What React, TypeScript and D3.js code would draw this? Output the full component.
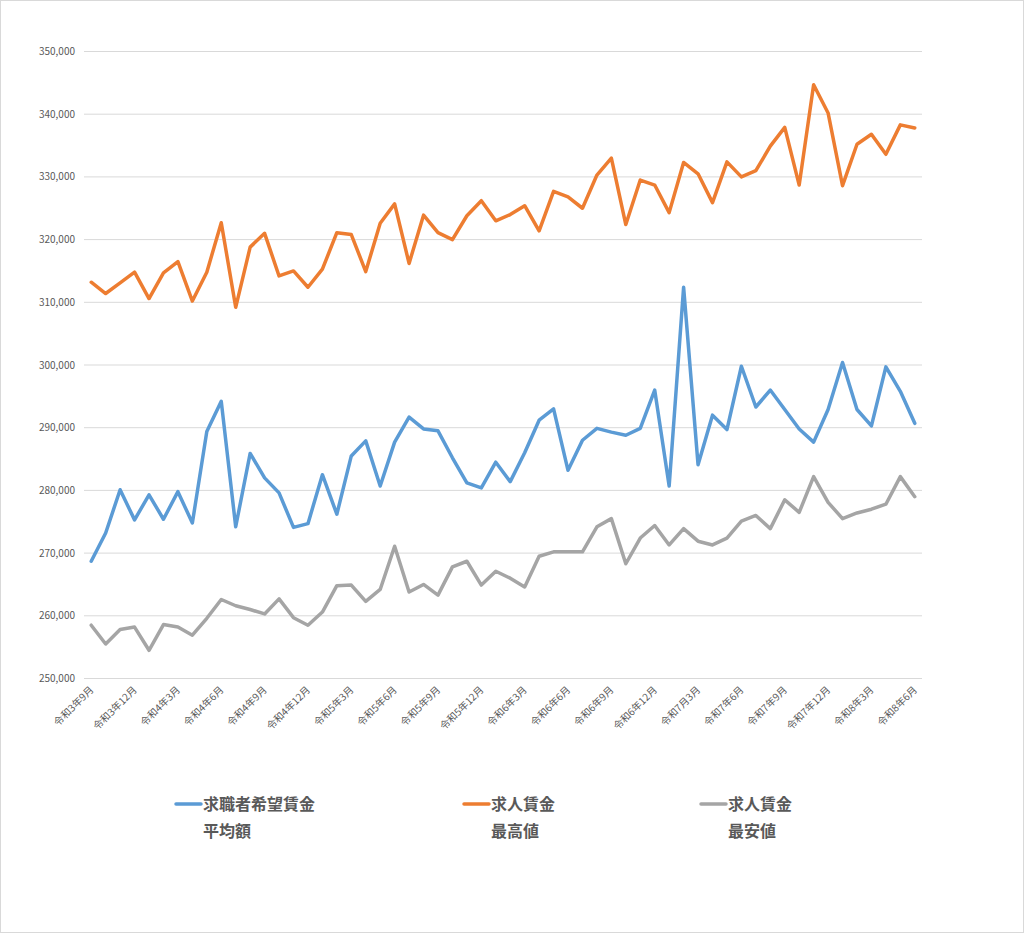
import * as d3 from "d3"

const months = [
  "令和3年9月", "令和3年10月", "令和3年11月", "令和3年12月",
  "令和4年1月", "令和4年2月", "令和4年3月", "令和4年4月", "令和4年5月", "令和4年6月",
  "令和4年7月", "令和4年8月", "令和4年9月", "令和4年10月", "令和4年11月", "令和4年12月",
  "令和5年1月", "令和5年2月", "令和5年3月", "令和5年4月", "令和5年5月", "令和5年6月",
  "令和5年7月", "令和5年8月", "令和5年9月", "令和5年10月", "令和5年11月", "令和5年12月",
  "令和6年1月", "令和6年2月", "令和6年3月", "令和6年4月", "令和6年5月", "令和6年6月",
  "令和6年7月", "令和6年8月", "令和6年9月", "令和6年10月", "令和6年11月", "令和6年12月",
  "令和7年1月", "令和7年2月", "令和7月3月", "令和7年4月", "令和7年5月", "令和7年6月",
  "令和7年7月", "令和7年8月", "令和7年9月", "令和7年10月", "令和7年11月", "令和7年12月",
  "令和8年1月", "令和8年2月", "令和8年3月", "令和8年4月", "令和8年5月", "令和8年6月",
]

// 求職者希望賃金 平均額
const seekerAvg = [
  268700, 273200, 280100, 275300, 279300, 275400, 279800, 274800, 289400, 294200,
  274200, 285900, 282000, 279600, 274100, 274700, 282500, 276200, 285500, 287900,
  280700, 287700, 291700, 289800, 289500, 285200, 281200, 280400, 284500, 281400,
  286000, 291200, 293000, 283200, 288000, 289900, 289300, 288800, 289900, 296000,
  280700, 312400, 284100, 292000, 289700, 299800, 293300, 296000, 292900, 289800,
  287700, 292900, 300400, 292900, 290300, 299700, 295800, 290700,
]

// 求人賃金 最高値
const offerMax = [
  313200, 311400, 313100, 314800, 310600, 314700, 316500, 310200, 314800, 322700,
  309200, 318800, 321000, 314200, 315000, 312400, 315300, 321100, 320800, 314900,
  322600, 325700, 316200, 323900, 321100, 320000, 323800, 326200, 323000, 324000,
  325400, 321400, 327700, 326800, 325000, 330300, 333000, 322400, 329500, 328700,
  324300, 332300, 330500, 325900, 332400, 330000, 331000, 334900, 337900, 328700,
  344700, 340200, 328600, 335200, 336800, 333600, 338300, 337800,
]

// 求人賃金 最安値
const offerMin = [
  258500, 255500, 257800, 258200, 254500, 258600, 258200, 256900, 259600, 262600,
  261600, 261000, 260300, 262700, 259700, 258500, 260600, 264800, 264900, 262300,
  264200, 271100, 263800, 265000, 263300, 267800, 268700, 264900, 267100, 266000,
  264600, 269500, 270200, 270200, 270200, 274200, 275500, 268300, 272400, 274400,
  271300, 273900, 271900, 271300, 272400, 275100, 276000, 273900, 278500, 276500,
  282200, 278100, 275500, 276400, 277000, 277800, 282200, 279000,
]

const yTicks = [250000, 260000, 270000, 280000, 290000, 300000, 310000, 320000, 330000, 340000, 350000]

const series = [
  { name: ["求職者希望賃金", "平均額"], values: seekerAvg, color: "#5B9BD5" },
  { name: ["求人賃金", "最高値"], values: offerMax, color: "#ED7D31" },
  { name: ["求人賃金", "最安値"], values: offerMin, color: "#A5A5A5" },
]

const W = 1024
const H = 933
const left = 84
const right = 922
const top = 51.5
const bottom = 678.5
const textColor = "#595959"
const font = "'Noto Sans CJK JP', 'Noto Sans', sans-serif"

export default function App() {
  const x = d3.scaleBand().domain(months).range([left, right])
  const cx = (m: string) => x(m)! + x.bandwidth() / 2
  const y = d3.scaleLinear().domain([250000, 350000]).range([bottom, top])
  const fmt = d3.format(",")

  const line = d3
    .line<number>()
    .x((_, i) => cx(months[i]))
    .y((d) => y(d))

  const legendX = [176, 464, 701]

  return (
    <svg
      width={W}
      height={H}
      style={{ position: "absolute", left: 0, top: 0, background: "#fff" }}
      fontFamily={font}
    >
      <rect x={0.5} y={0.5} width={W - 1} height={H - 1} fill="#fff" stroke="#d9d9d9" />

      {/* gridlines and y labels */}
      {yTicks.map((t) => (
        <g key={t}>
          <line x1={left} x2={right} y1={y(t)} y2={y(t)} stroke="#d9d9d9" strokeWidth={1} />
          <text
            x={75}
            y={y(t)}
            dy="0.35em"
            textAnchor="end"
            fontSize={10}
            fill={textColor}
          >
            {fmt(t)}
          </text>
        </g>
      ))}

      {/* x labels every 3 months */}
      {months.map((m, i) =>
        i % 3 === 0 ? (
          <text
            key={m}
            transform={`translate(${cx(m) + 3},${bottom + 12}) rotate(-45)`}
            textAnchor="end"
            fontSize={10}
            fill={textColor}
          >
            {m}
          </text>
        ) : null,
      )}

      {/* lines */}
      {series.map((s) => (
        <path
          key={s.color}
          d={line(s.values)!}
          fill="none"
          stroke={s.color}
          strokeWidth={3.5}
          strokeLinejoin="round"
          strokeLinecap="round"
        />
      ))}

      {/* legend */}
      {series.map((s, i) => (
        <g key={s.color} transform={`translate(${legendX[i]},804)`}>
          <line x1={0} x2={25} y1={0} y2={0} stroke={s.color} strokeWidth={3.5} strokeLinecap="round" />
          <text x={27} y={0} dy="0.35em" fontSize={16} fontWeight={700} fill={textColor}>
            {s.name[0]}
          </text>
          <text x={27} y={27} dy="0.35em" fontSize={16} fontWeight={700} fill={textColor}>
            {s.name[1]}
          </text>
        </g>
      ))}
    </svg>
  )
}
